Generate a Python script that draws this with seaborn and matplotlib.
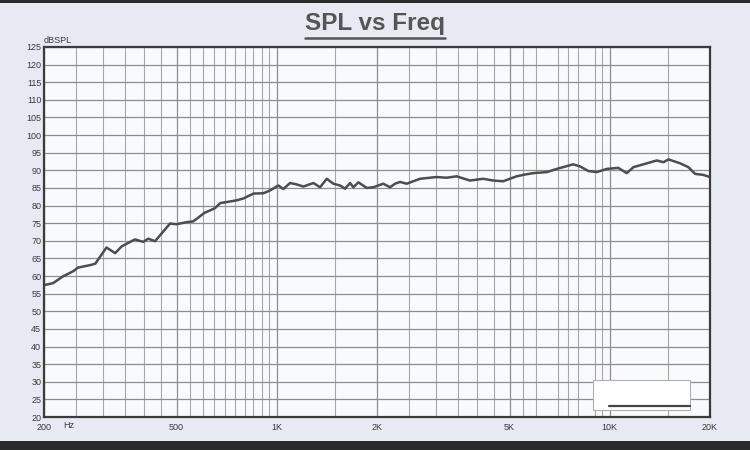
import numpy as np
import matplotlib
matplotlib.use("Agg")
from matplotlib import pyplot as plt
from matplotlib.patches import Rectangle
from matplotlib.lines import Line2D
import seaborn as sns
import pandas as pd

freq_hz = [200, 213, 228, 245, 253, 275, 285, 308, 327, 342, 375, 397, 411, 431,
           478, 500, 537, 561, 608, 630, 653, 676, 708, 759, 793, 851, 912, 955,
           1011, 1047, 1096, 1148, 1202, 1288, 1349, 1413, 1479, 1548, 1603, 1660,
           1698, 1758, 1862, 1950, 2089, 2188, 2265, 2345, 2455, 2692, 3020, 3236,
           3467, 3802, 4169, 4467, 4786, 5248, 5559, 5888, 6471, 6934, 7762, 8147,
           8620, 9141, 9795, 10606, 11247, 11777, 12618, 13841, 14496, 15005,
           16256, 17219, 18034, 19100, 20000]
spl_db = [57.4, 58.0, 59.9, 61.4, 62.4, 63.1, 63.5, 68.1, 66.5, 68.4, 70.4, 69.7,
          70.6, 69.9, 74.9, 74.7, 75.3, 75.5, 78.0, 78.6, 79.3, 80.7, 81.0, 81.5,
          82.0, 83.4, 83.5, 84.3, 85.7, 84.7, 86.4, 86.0, 85.4, 86.4, 85.2, 87.6,
          86.2, 85.7, 84.8, 86.4, 85.2, 86.6, 85.0, 85.2, 86.2, 85.2, 86.2, 86.7,
          86.2, 87.6, 88.1, 87.9, 88.3, 87.1, 87.6, 87.1, 86.9, 88.3, 88.8, 89.2,
          89.5, 90.4, 91.7, 91.1, 89.8, 89.5, 90.4, 90.7, 89.2, 90.9, 91.7, 92.8,
          92.3, 93.1, 92.0, 90.9, 89.0, 88.7, 88.1]

x_ticks = [200, 500, 1000, 2000, 5000, 10000, 20000]
x_labels = ["200", "500", "1K", "2K", "5K", "10K", "20K"]
x_grid = (list(range(250, 1000, 50)) + list(range(1500, 5000, 500))
          + [5500, 6000, 7000, 7500, 8000, 9000, 9500, 15000])
y_ticks = list(range(20, 130, 5))

df = pd.DataFrame({"freq": freq_hz, "spl": spl_db})

sns.set_style("white")
plt.rcParams["font.family"] = ["Liberation Sans", "DejaVu Sans"]

bg = "#e7eaf2"
fig = plt.figure(figsize=(7.5, 4.5), dpi=100, facecolor=bg)
ax = fig.add_axes([0.0587, 0.0733, 0.888, 0.8223])
ax.set_facecolor("#f9fafc")

sns.lineplot(data=df, x="freq", y="spl", ax=ax, color="#4d4d4d", linewidth=1.8)

ax.set_xscale("log")
ax.set_xlim(200, 20000)
ax.set_ylim(20, 125)
ax.set_xticks(x_ticks)
ax.set_xticklabels(x_labels)
ax.set_xticks(x_grid, minor=True)
ax.set_xticklabels([], minor=True)
ax.set_yticks(y_ticks)
ax.set_yticklabels([str(v) for v in y_ticks])
ax.tick_params(axis="both", which="both", length=0, labelsize=6.5, colors="#3a3a3a")
ax.tick_params(axis="x", pad=4)
ax.tick_params(axis="y", pad=2)
ax.grid(True, which="major", color="#8e8e8e", linewidth=0.9)
ax.grid(True, which="minor", axis="x", color="#a9a9a9", linewidth=0.8)
ax.set_xlabel("")
ax.set_ylabel("")
for s in ax.spines.values():
    s.set_color("#3c3c3c")
    s.set_linewidth(1.6)

ax.text(0.0, 1.004, "dBSPL", transform=ax.transAxes, fontsize=6.5,
        color="#3a3a3a", ha="left", va="bottom")
ax.text(0.029, -0.012, "Hz", transform=ax.transAxes, fontsize=6.5,
        color="#3a3a3a", ha="left", va="top")

# washed-out legend box in the lower right
ax.add_patch(Rectangle((0.824, 0.02), 0.146, 0.08, transform=ax.transAxes,
                       facecolor="white", edgecolor="#b0b0b0", linewidth=0.8, zorder=3))
ax.add_line(Line2D([0.848, 0.97], [0.03, 0.03], transform=ax.transAxes,
                   color="#444444", linewidth=1.6, zorder=4))

title = fig.text(0.5, 0.948, "SPL vs Freq", ha="center", va="center",
                 fontsize=17.5, fontweight="bold", color="#555555")
fig.canvas.draw()
bb = title.get_window_extent().transformed(fig.transFigure.inverted())
fig.add_artist(Line2D([bb.x0, bb.x1], [bb.y0 - 0.006, bb.y0 - 0.006],
                      transform=fig.transFigure, color="#555555", linewidth=1.8))

# dark photo edges top and bottom
fig.patches.append(Rectangle((0, 0), 1, 0.02, transform=fig.transFigure,
                             facecolor="#2a2a2a", edgecolor="none", zorder=-1))
fig.patches.append(Rectangle((0, 0.994), 1, 0.006, transform=fig.transFigure,
                             facecolor="#2a2a2a", edgecolor="none", zorder=-1))

fig.savefig("out.png", dpi=100, facecolor=bg)
